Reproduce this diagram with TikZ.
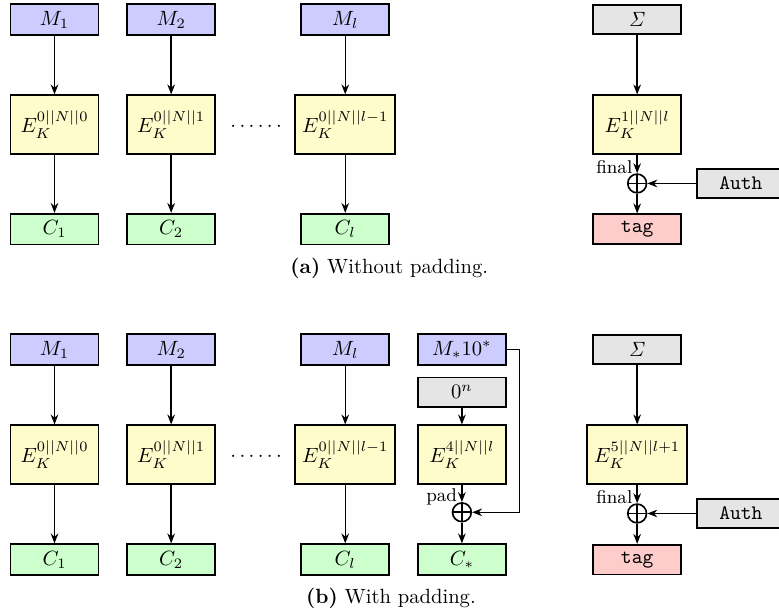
\documentclass[tikz,border=0pt]{standalone}
\usetikzlibrary{arrows.meta}

\tikzset{
  box/.style={draw, thick, minimum width=1.5cm, minimum height=0.5cm},
  msg/.style={box, fill=blue!20},
  enc/.style={box, fill=yellow!20, minimum height=1cm},
  ctx/.style={box, fill=green!20},
  cst/.style={box, fill=gray!20},
  tagbox/.style={box, fill=red!20},
  xorop/.style={draw, thick, circle, minimum size=0.32cm, inner sep=0pt,
    path picture={\draw[thick] (path picture bounding box.north) -- (path picture bounding box.south)
      (path picture bounding box.west) -- (path picture bounding box.east);}},
  flow/.style={-{Stealth[length=1.7mm,width=1.3mm]}, line width=0.7pt},
  lbl/.style={left, font=\small, inner sep=2pt, yshift=-1.5pt},
}

\begin{document}
\begin{tikzpicture}
\useasboundingbox (0,0) rectangle (13.29,-10.49);

% (a) without padding
\node[msg] (am1) at (0.93,-0.333) {$M_1$};
\node[msg] (am2) at (2.92,-0.333) {$M_2$};
\node[msg] (aml) at (5.89,-0.333) {$M_l$};
\node[enc] (ae1) at (0.93,-2.125) {$E_K^{0||N||0}$};
\node[enc] (ae2) at (2.92,-2.125) {$E_K^{0||N||1}$};
\node[enc] (ael) at (5.89,-2.125) {$E_K^{0||N||l-1}$};
\node (adots) at (4.37,-2.16) {$\cdots\cdots$};
\node[ctx] (ac1) at (0.93,-3.91) {$C_1$};
\node[ctx] (ac2) at (2.92,-3.91) {$C_2$};
\node[ctx] (acl) at (5.89,-3.91) {$C_l$};
\draw[flow] (am1) -- (ae1);
\draw[flow] (am2) -- (ae2);
\draw[flow] (aml) -- (ael);
\draw[flow] (ae1) -- (ac1);
\draw[flow] (ae2) -- (ac2);
\draw[flow] (ael) -- (acl);

\node[cst] (asig) at (10.87,-0.333) {$\mathit{\Sigma}$};
\node[enc] (aef) at (10.87,-2.125) {$E_K^{1||N||l}$};
\node[xorop] (axor) at (10.87,-3.13) {};
\node[cst] (aauth) at (12.64,-3.13) {\texttt{Auth}};
\node[tagbox] (atag) at (10.87,-3.91) {\texttt{tag}};
\draw[flow] (asig) -- (aef);
\draw[flow] (aef) -- node[lbl] {final} (axor);
\draw[flow] (aauth) -- (axor);
\draw[flow] (axor) -- (atag);

\node[anchor=base west] (acap) at (4.83,-4.66) {\textbf{(a)} Without padding.};

% (b) with padding
\node[msg] (bm1) at (0.93,-5.964) {$M_1$};
\node[msg] (bm2) at (2.92,-5.964) {$M_2$};
\node[msg] (bml) at (5.89,-5.964) {$M_l$};
\node[enc] (be1) at (0.93,-7.756) {$E_K^{0||N||0}$};
\node[enc] (be2) at (2.92,-7.756) {$E_K^{0||N||1}$};
\node[enc] (bel) at (5.89,-7.756) {$E_K^{0||N||l-1}$};
\node (bdots) at (4.37,-7.79) {$\cdots\cdots$};
\node[ctx] (bc1) at (0.93,-9.548) {$C_1$};
\node[ctx] (bc2) at (2.92,-9.548) {$C_2$};
\node[ctx] (bcl) at (5.89,-9.548) {$C_l$};
\draw[flow] (bm1) -- (be1);
\draw[flow] (bm2) -- (be2);
\draw[flow] (bml) -- (bel);
\draw[flow] (be1) -- (bc1);
\draw[flow] (be2) -- (bc2);
\draw[flow] (bel) -- (bcl);

\node[msg] (bmstar) at (7.88,-5.964) {$M_*10^*$};
\node[cst] (bzero) at (7.88,-6.69) {$0^n$};
\node[enc] (bepad) at (7.88,-7.756) {$E_K^{4||N||l}$};
\node[xorop] (bxor) at (7.88,-8.74) {};
\node[ctx] (bcstar) at (7.88,-9.548) {$C_*$};
\draw[flow] (bzero) -- (bepad);
\draw[flow] (bepad) -- node[lbl] {pad} (bxor);
\draw[flow] (bxor) -- (bcstar);
\draw[flow] (bmstar.east) -- ++(0.22,0) |- (bxor.east);

\node[cst] (bsig) at (10.87,-5.964) {$\mathit{\Sigma}$};
\node[enc] (bef) at (10.87,-7.756) {$E_K^{5||N||l+1}$};
\node[xorop] (bxorf) at (10.87,-8.76) {};
\node[cst] (bauth) at (12.64,-8.76) {\texttt{Auth}};
\node[tagbox] (btag) at (10.87,-9.548) {\texttt{tag}};
\draw[flow] (bsig) -- (bef);
\draw[flow] (bef) -- node[lbl] {final} (bxorf);
\draw[flow] (bauth) -- (bxorf);
\draw[flow] (bxorf) -- (btag);

\node[anchor=base west] (bcap) at (5.10,-10.29) {\textbf{(b)} With padding.};
\end{tikzpicture}
\end{document}
